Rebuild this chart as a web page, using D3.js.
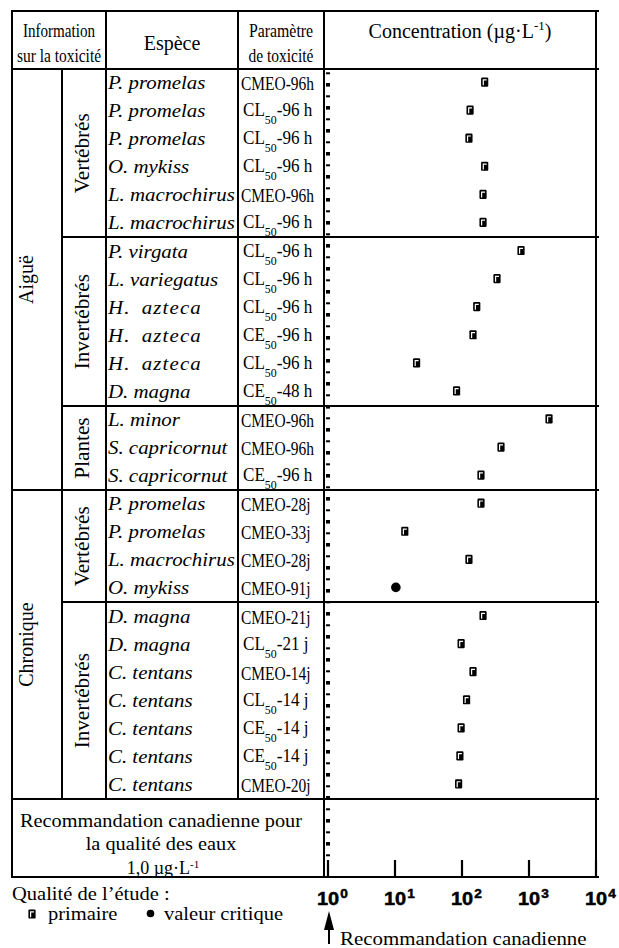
<!DOCTYPE html>
<html><head><meta charset="utf-8">
<script src="https://cdn.jsdelivr.net/npm/d3@7"></script>
<style>
body{margin:0;background:#fff}
svg{display:block}
text{font-family:"Liberation Serif","Times New Roman",Times,serif;fill:#000}
</style>
</head><body>
<svg id="chart" width="619" height="948"></svg>
<script>
// ---------------- data ----------------
const species = ["P. promelas","P. promelas","P. promelas","O. mykiss","L. macrochirus","L. macrochirus",
  "P. virgata","L. variegatus","H. azteca","H. azteca","H. azteca","D. magna",
  "L. minor","S. capricornut","S. capricornut",
  "P. promelas","P. promelas","L. macrochirus","O. mykiss",
  "D. magna","D. magna","C. tentans","C. tentans","C. tentans","C. tentans","C. tentans"];
const endpoints = ["CMEO-96h","CL_50-96 h","CL_50-96 h","CL_50-96 h","CMEO-96h","CL_50-96 h",
  "CL_50-96 h","CL_50-96 h","CL_50-96 h","CE_50-96 h","CL_50-96 h","CE_50-48 h",
  "CMEO-96h","CMEO-96h","CE_50-96 h",
  "CMEO-28j","CMEO-33j","CMEO-28j","CMEO-91j",
  "CMEO-21j","CL_50-21 j","CMEO-14j","CL_50-14 j","CE_50-14 j","CE_50-14 j","CMEO-20j"];
const concentrations = [218,132,127,218,206,206,
  760,333,166,146,21,83,
  1990,382,192,
  192,14,127,10.3,
  206,97,146,117,97,93,89];
const studyQuality = ["primaire","primaire","primaire","primaire","primaire","primaire",
  "primaire","primaire","primaire","primaire","primaire","primaire",
  "primaire","primaire","primaire",
  "primaire","primaire","primaire","critique",
  "primaire","primaire","primaire","primaire","primaire","primaire","primaire"];
const exposureNames = ["Aiguë","Chronique"];
const exposureSizes = [15, 11];
const taxonNames = ["Vertébrés","Invertébrés","Plantes","Vertébrés","Invertébrés"];
const taxonSizes = [6, 6, 3, 4, 7];
const tickExponents = [0, 1, 2, 3, 4];
const guideline = 1.0;

// ---------------- layout ----------------
const L = 12, R = 596, TOP = 11, HB = 69, RB = 799, BOT = 877;
const colX = [12, 62, 106, 238, 324, 596];
const svg = d3.select("#chart");

const x = d3.scaleLog().domain([1, 1e4]).range([328, 596]);
const y = d3.scaleBand().domain(d3.range(species.length)).range([HB, RB]);
const yc = i => y(i) + y.bandwidth() / 2;

function txt(parent, px, py, str, o = {}) {
  const t = parent.append("text")
    .attr("transform", `translate(${px},${py})` + (o.rot ? " rotate(-90)" : "") + ` scale(${o.sx || 1},1)`)
    .attr("font-size", o.size || 18)
    .attr("text-anchor", o.anchor || "start");
  if (o.italic) t.attr("font-style", "italic");
  if (o.weight) t.attr("font-weight", o.weight);
  if (o.family) t.style("font-family", o.family);
  if (o.ls) t.attr("letter-spacing", o.ls);
  if (o.ws) t.attr("word-spacing", o.ws);
  if (str !== null) t.text(str);
  return t;
}

const lines = svg.append("g").attr("stroke", "#000").attr("stroke-width", 2)
  .attr("shape-rendering", "crispEdges");
function hl(x1, x2, yy) { lines.append("line").attr("x1", x1).attr("x2", x2).attr("y1", yy).attr("y2", yy); }
function vl(xx, y1, y2) { lines.append("line").attr("x1", xx).attr("x2", xx).attr("y1", y1).attr("y2", y2); }

// outer frame and column lines
hl(L - 1, R + 3, TOP);
hl(L - 1, R + 3, HB);
hl(L - 1, R + 3, RB);
hl(L - 1, R + 3, BOT);
vl(L, TOP, BOT);
vl(colX[1], HB, RB + 1);
vl(colX[2], TOP, RB + 1);
vl(colX[3], TOP, RB + 1);
vl(colX[4], TOP, BOT);
vl(R, TOP, BOT);

// group dividers and labels
const exposureStarts = exposureSizes.map((n, k) => d3.sum(exposureSizes.slice(0, k)));
exposureSizes.forEach((n, k) => {
  const s = exposureStarts[k];
  const y0 = y(s), y1 = s + n < species.length ? y(s + n) : RB;
  if (s > 0) hl(L - 1, R + 3, y0);
  txt(svg, 33, (y0 + y1) / 2, exposureNames[k], {rot: true, anchor: "middle", size: 20});
});
taxonSizes.forEach((n, k) => {
  const s = d3.sum(taxonSizes.slice(0, k));
  const y0 = y(s), y1 = s + n < species.length ? y(s + n) : RB;
  if (s > 0 && !exposureStarts.includes(s)) hl(colX[1], R + 3, y0);
  txt(svg, 89, (y0 + y1) / 2, taxonNames[k], {rot: true, anchor: "middle", size: 20, sx: 1.06});
});

// header
txt(svg, 59, 37, "Information", {anchor: "middle", size: 18, sx: 0.84});
txt(svg, 59, 62, "sur la toxicité", {anchor: "middle", size: 18, sx: 0.86});
txt(svg, 172, 50, "Espèce", {anchor: "middle", size: 20});
txt(svg, 281, 37, "Paramètre", {anchor: "middle", size: 18, sx: 0.88});
txt(svg, 281, 62, "de toxicité", {anchor: "middle", size: 18, sx: 0.86});
const ct = txt(svg, 460, 38, null, {anchor: "middle", size: 20});
ct.append("tspan").text("Concentration (µg·L");
ct.append("tspan").attr("font-size", 13).attr("dy", -8).text("-1");
ct.append("tspan").attr("dy", 8).text(")");

// rows text
species.forEach((s, i) => {
  const wide = s === "H. azteca";
  txt(svg, 108, yc(i) + 6, s, {italic: true, size: 18, sx: 1.16, ls: wide ? 1 : null, ws: wide ? 4 : null});
  const p = endpoints[i];
  if (p.includes("_50")) {
    const parts = p.split("_50");
    const t = txt(svg, 243, yc(i) + 5, null, {size: 18, sx: 0.95});
    t.append("tspan").text(parts[0]);
    t.append("tspan").attr("font-size", 12.5).attr("dy", 8).text("50");
    t.append("tspan").attr("dy", -8).text(parts[1]);
  } else {
    txt(svg, 241, yc(i) + 7, p, {size: 18, sx: 0.86});
  }
});

// y-axis dashes
const dashes = d3.range(69).map(i => 73.3 + i * 11.5);
svg.append("g").selectAll("rect").data(dashes).join("rect")
  .attr("x", 326).attr("width", 4)
  .attr("y", (d, i) => d - (i % 2 ? 1.8 : 1))
  .attr("height", (d, i) => i % 2 ? 3.6 : 2)
  .attr("fill", "#000");

// x-axis ticks
svg.append("g").selectAll("line").data(tickExponents).join("line")
  .attr("x1", e => x(Math.pow(10, e))).attr("x2", e => x(Math.pow(10, e)))
  .attr("y1", BOT - 17).attr("y2", BOT)
  .attr("stroke", "#000").attr("stroke-width", 2.2);
tickExponents.forEach(e => {
  const t = txt(svg, x(Math.pow(10, e)) - 11, 905, null,
    {size: 19, weight: "bold", sx: 1.05, family: "'Liberation Sans', Arial, sans-serif"});
  t.attr("stroke", "#000").attr("stroke-width", 0.5);
  t.append("tspan").text("10");
  t.append("tspan").attr("font-size", 13).attr("dy", -7).attr("dx", 1).text(String(e));
});

// markers
function primaryMarker(g) {
  g.append("rect").attr("x", -3.6).attr("y", -4.6).attr("width", 7.2).attr("height", 9.2)
    .attr("rx", 1.2).attr("fill", "#000");
  g.append("path").attr("d", "M-1.4,3.2V-2.2H2").attr("fill", "none")
    .attr("stroke", "#fff").attr("stroke-width", 1.2);
}
concentrations.forEach((v, i) => {
  const g = svg.append("g").attr("transform", `translate(${x(v)},${yc(i) - 1})`);
  if (studyQuality[i] === "primaire") primaryMarker(g);
  else g.append("circle").attr("r", 4.8).attr("fill", "#000");
});

// guideline block
txt(svg, 161, 827, "Recommandation canadienne pour", {anchor: "middle", size: 19, sx: 1.07});
txt(svg, 161, 850, "la qualité des eaux", {anchor: "middle", size: 19, sx: 1.07});
const gt = txt(svg, 163, 874, null, {anchor: "middle", size: 18, sx: 1.0});
gt.append("tspan").text("1,0 µg·L");
gt.append("tspan").attr("font-size", 11).attr("dy", -6).text("-1");

// legend
txt(svg, 12, 900, "Qualité de l’étude :", {size: 19, sx: 1.08});
primaryMarker(svg.append("g").attr("transform", "translate(32,914)"));
txt(svg, 48, 920, "primaire", {size: 19, sx: 1.08});
svg.append("circle").attr("cx", 150.5).attr("cy", 913.5).attr("r", 3.8).attr("fill", "#000");
txt(svg, 164, 920, "valeur critique", {size: 19, sx: 1.08});

// guideline arrow
const ax = x(guideline) + 1;
svg.append("line").attr("x1", ax).attr("x2", ax).attr("y1", 944).attr("y2", 925)
  .attr("stroke", "#000").attr("stroke-width", 2);
svg.append("path").attr("d", `M${ax},911L${ax - 5},930L${ax + 5},930Z`).attr("fill", "#000");
txt(svg, 340, 945, "Recommandation canadienne", {size: 19, sx: 1.1});
</script>
</body></html>
